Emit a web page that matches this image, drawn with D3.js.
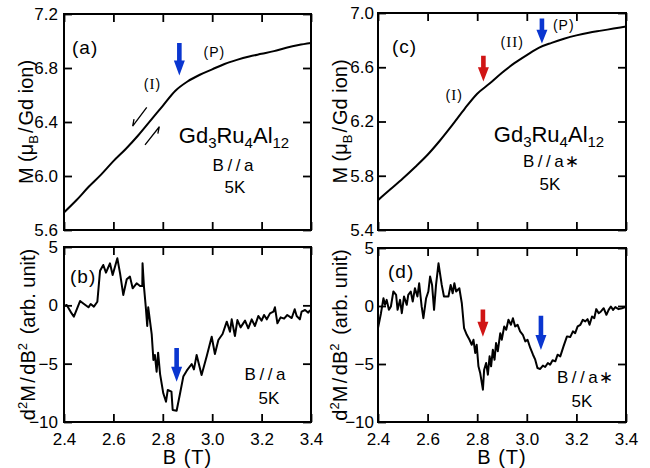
<!DOCTYPE html>
<html>
<head>
<meta charset="utf-8">
<script src="https://cdn.jsdelivr.net/npm/d3@7"></script>
<style>
  body { margin: 0; background: #fff; }
  svg text { font-family: "Liberation Sans", Arial, sans-serif; fill: #000; }
</style>
</head>
<body>
<svg id="fig" width="650" height="468"></svg>
<script>
// ---- magnetization M(B), B // a  (panel a)
const fieldA = [2.40, 2.45, 2.50, 2.55, 2.60, 2.65, 2.70, 2.75, 2.80, 2.85, 2.90,
                2.95, 3.00, 3.05, 3.10, 3.15, 3.20, 3.25, 3.30, 3.35, 3.40];
const magA   = [5.73, 5.82, 5.92, 6.01, 6.11, 6.20, 6.30, 6.41, 6.52, 6.63, 6.70,
                6.75, 6.79, 6.83, 6.86, 6.885, 6.905, 6.925, 6.95, 6.97, 6.985];

// ---- magnetization M(B), B // a*  (panel c)
const fieldC = [2.40, 2.45, 2.50, 2.55, 2.60, 2.65, 2.70, 2.75, 2.80, 2.85, 2.90,
                2.95, 3.00, 3.05, 3.10, 3.15, 3.20, 3.25, 3.30, 3.35, 3.40];
const magC   = [5.62, 5.70, 5.78, 5.865, 5.955, 6.06, 6.175, 6.295, 6.405, 6.48, 6.56,
                6.63, 6.69, 6.745, 6.78, 6.81, 6.835, 6.855, 6.87, 6.885, 6.90];

// ---- second derivative d2M/dB2, B // a  (panel b)
const fieldB = [2.400,2.411,2.431,2.440,2.465,2.481,2.499,2.508,2.521,2.535,2.546,2.559,2.570,2.586,
                2.597,2.616,2.627,2.640,2.654,2.667,2.678,2.694,2.708,2.717,2.718,2.724,2.731,2.737,
                2.741,2.755,2.762,2.768,2.775,2.781,2.789,2.802,2.813,2.820,2.835,2.840,2.856,2.870,
                2.883,2.897,2.917,2.926,2.937,2.957,2.978,2.998,3.011,3.025,3.042,3.059,3.072,3.079,
                3.092,3.102,3.115,3.133,3.146,3.160,3.173,3.187,3.200,3.210,3.221,3.234,3.248,3.254,
                3.264,3.277,3.291,3.304,3.322,3.334,3.342,3.355,3.362,3.376,3.389,3.396];
const d2B    = [-0.06,0.03,-0.69,-0.97,0.37,0.11,-0.17,0.11,-0.11,0.31,2.97,3.46,2.80,3.60,
                2.60,4.03,2.74,0.89,2.23,2.46,1.46,1.89,1.66,1.66,3.60,1.54,-0.11,-1.77,
                -0.17,-2.46,-4.69,-4.26,-5.69,-4.06,-5.89,-7.54,-8.26,-7.26,-7.40,-8.97,-9.03,-7.54,
                -6.11,-5.60,-5.03,-5.49,-4.26,-5.97,-4.34,-2.69,-4.17,-2.97,-2.46,-1.40,-2.26,-1.20,
                -2.63,-1.26,-1.89,-1.31,-1.97,-1.20,-1.77,-0.91,-1.31,-0.83,-1.20,-0.69,-0.54,-0.17,
                -1.54,-1.03,-1.14,-0.83,-1.09,-0.34,-0.91,-1.20,-0.54,-0.40,-0.63,-0.40];

// ---- second derivative d2M/dB2, B // a*  (panel d)
const fieldD = [2.400,2.412,2.422,2.428,2.435,2.444,2.452,2.462,2.473,2.479,2.489,2.496,2.505,2.516,
                2.522,2.532,2.540,2.549,2.559,2.566,2.576,2.583,2.594,2.603,2.610,2.618,2.626,2.634,
                2.644,2.650,2.657,2.666,2.684,2.693,2.701,2.708,2.715,2.728,2.738,2.747,2.758,2.769,
                2.778,2.785,2.792,2.798,2.805,2.812,2.823,2.828,2.836,2.843,2.850,2.856,2.863,2.870,
                2.876,2.883,2.893,2.899,2.909,2.917,2.926,2.936,2.944,2.953,2.963,2.973,2.984,2.994,
                3.003,3.014,3.025,3.034,3.043,3.054,3.065,3.074,3.085,3.094,3.104,3.115,3.124,3.135,
                3.148,3.162,3.175,3.186,3.195,3.205,3.216,3.226,3.236,3.245,3.253,3.263,3.272,3.280,
                3.290,3.299,3.310,3.321,3.330,3.339,3.348,3.357,3.370,3.384,3.397];
const d2D    = [-1.91,-0.62,0.67,0.10,0.53,-0.33,-0.04,1.25,0.96,-0.33,0.53,-0.62,0.82,0.10,
                0.96,1.25,0.39,1.53,0.82,1.96,-0.04,-1.05,0.67,1.25,2.54,1.82,-0.33,1.82,
                3.68,2.82,1.82,0.82,0.82,1.82,1.10,1.96,1.25,1.53,0.24,-1.91,-2.48,-2.91,
                -3.34,-2.91,-4.05,-3.34,-5.20,-5.77,-7.21,-5.49,-4.91,-5.92,-4.34,-5.20,-3.77,-4.63,
                -3.19,-3.91,-2.34,-2.91,-1.76,-2.05,-1.19,-1.62,-1.05,-1.76,-1.62,-2.19,-2.48,-3.05,
                -2.91,-3.62,-4.20,-4.63,-5.34,-5.43,-5.14,-5.26,-4.91,-5.06,-4.68,-4.77,-4.20,-4.34,
                -3.48,-2.62,-2.68,-2.19,-2.34,-1.76,-1.62,-1.19,-1.33,-1.13,-1.62,-0.90,-1.05,-0.27,
                -0.62,-0.47,-0.19,-0.76,-0.33,-0.04,-0.33,-0.10,-0.27,-0.19,-0.10];

// ---- tick values
const fieldTicks = [2.4, 2.6, 2.8, 3.0, 3.2, 3.4];
const magTicksA  = [5.6, 6.0, 6.4, 6.8, 7.2];
const magTicksC  = [5.4, 5.8, 6.2, 6.6, 7.0];
const d2Ticks    = [-10, -5, 0, 5];

// ---- transition markers: field, arrow tail value, arrow tip value, colour
const markersA = [{ b: 2.867, from: 6.985, to: 6.745, c: "#0a36d0" }];
const markersB = [{ b: 2.856, from: -3.65, to: -6.55, c: "#0a36d0" }];
const markersC = [{ b: 2.825, from: 6.685, to: 6.495, c: "#d01515" },
                  { b: 3.061, from: 6.960, to: 6.775, c: "#0a36d0" }];
const markersD = [{ b: 2.823, from: -0.30, to: -2.65, c: "#d01515" },
                  { b: 3.057, from: -0.85, to: -3.80, c: "#0a36d0" }];

const FONT = '"Liberation Sans", Arial, sans-serif';
const svg = d3.select("#fig");

function panel(p) {
  const x = d3.scaleLinear().domain([2.4, 3.4]).range([p.x0, p.x1]);
  const y = d3.scaleLinear().domain(p.dom).range([p.y1, p.y0]);
  const g = svg.append("g");

  const styleAxis = sel => {
    sel.attr("font-size", 17).attr("font-family", FONT);
    sel.select(".domain").remove();
    sel.selectAll(".tick line").attr("stroke", "#000").attr("stroke-width", 1.8);
    sel.selectAll(".tick text").attr("fill", "#000");
  };

  g.append("g").attr("transform", `translate(${p.x0},0)`)
    .call(d3.axisLeft(y).tickValues(p.ticks).tickFormat(p.fmt)
      .tickSizeInner(-8).tickSizeOuter(0).tickPadding(p.pad)).call(styleAxis);
  g.append("g").attr("transform", `translate(${p.x1},0)`)
    .call(d3.axisRight(y).tickValues(p.ticks).tickFormat("")
      .tickSizeInner(-8).tickSizeOuter(0)).call(styleAxis);
  g.append("g").attr("transform", `translate(0,${p.y0})`)
    .call(d3.axisTop(x).tickValues(fieldTicks).tickFormat("")
      .tickSizeInner(-8).tickSizeOuter(0)).call(styleAxis);
  g.append("g").attr("transform", `translate(0,${p.y1})`)
    .call(d3.axisBottom(x).tickValues(fieldTicks)
      .tickFormat(p.xLabels ? d3.format(".1f") : "")
      .tickSizeInner(-8).tickSizeOuter(0).tickPadding(11)).call(styleAxis);

  const clipId = "clip-" + p.id;
  svg.append("clipPath").attr("id", clipId).append("rect")
    .attr("x", p.x0).attr("y", p.y0).attr("width", p.x1 - p.x0).attr("height", p.y1 - p.y0);

  const pts = d3.zip(p.bx, p.vals);
  const line = d3.line().x(d => x(d[0])).y(d => y(d[1]))
    .curve(p.smooth ? d3.curveMonotoneX : d3.curveLinear);
  g.append("path").datum(pts).attr("clip-path", `url(#${clipId})`)
    .attr("d", line).attr("fill", "none").attr("stroke", "#000")
    .attr("stroke-width", 2).attr("stroke-linejoin", "round");

  g.append("rect").attr("x", p.x0).attr("y", p.y0)
    .attr("width", p.x1 - p.x0).attr("height", p.y1 - p.y0)
    .attr("fill", "none").attr("stroke", "#000").attr("stroke-width", 2);

  // block arrows marking transitions
  p.markers.forEach(m => {
    const cx = x(m.b), top = y(m.from), tip = y(m.to);
    const head = Math.min(15, (tip - top) * 0.55), sw = 2.3, hw = 5.5;
    const path = d3.path();
    path.moveTo(cx - sw, top); path.lineTo(cx + sw, top);
    path.lineTo(cx + sw, tip - head); path.lineTo(cx + hw, tip - head);
    path.lineTo(cx, tip); path.lineTo(cx - hw, tip - head);
    path.lineTo(cx - sw, tip - head); path.closePath();
    g.append("path").attr("d", path.toString()).attr("fill", m.c);
  });

  // panel tag
  g.append("text").attr("x", p.x0 + p.tag[1]).attr("y", p.y0 + p.tag[2])
    .attr("font-size", 19).attr("letter-spacing", 1).text(p.tag[0]);

  return { x, y, g };
}

function slashText(g, cx, by, str, size) {
  // text like B//a with wide slashes
  const t = g.append("text").attr("x", cx).attr("y", by)
    .attr("font-size", size).attr("text-anchor", "middle");
  [...str].forEach((ch, i) => {
    const ts = t.append("tspan").attr("dx", i === 0 ? 0 : 3.5).text(ch);
    if (ch === "∗") ts.attr("font-family", '"DejaVu Sans", sans-serif').attr("dx", 1);
  });
  return t;
}

function compound(g, cx, by) {
  const t = g.append("text").attr("x", cx).attr("y", by)
    .attr("font-size", 22).attr("text-anchor", "middle");
  const parts = [["Gd", 0], ["3", 1], ["Ru", 0], ["4", 1], ["Al", 0], ["12", 1]];
  let prev = 0;
  parts.forEach(([s, sub]) => {
    const ts = t.append("tspan").text(s);
    if (sub) ts.attr("font-size", 15);
    const dy = (sub ? 5 : 0) - prev;
    if (dy) ts.attr("dy", dy);
    prev = sub ? 5 : 0;
  });
}

const pa = panel({ id: "a", x0: 64, x1: 311, y0: 14, y1: 230, dom: [5.6, 7.2], ticks: magTicksA,
  fmt: d3.format(".1f"), pad: 6, xLabels: false, bx: fieldA, vals: magA, smooth: true,
  markers: markersA, tag: ["(a)", 8, 40] });
const pb = panel({ id: "b", x0: 64, x1: 311, y0: 247, y1: 422, dom: [-10, 5], ticks: d2Ticks,
  fmt: d3.format("d"), pad: 6, xLabels: true, bx: fieldB, vals: d2B, smooth: false,
  markers: markersB, tag: ["(b)", 6, 36] });
const pc = panel({ id: "c", x0: 378, x1: 626, y0: 13, y1: 230, dom: [5.4, 7.0], ticks: magTicksC,
  fmt: d3.format(".1f"), pad: 4, xLabels: false, bx: fieldC, vals: magC, smooth: true,
  markers: markersC, tag: ["(c)", 14, 40] });
const pd = panel({ id: "d", x0: 378, x1: 626, y0: 248, y1: 422, dom: [-10, 5], ticks: d2Ticks,
  fmt: d3.format("d"), pad: 4, xLabels: true, bx: fieldD, vals: d2D, smooth: false,
  markers: markersD, tag: ["(d)", 10, 30] });

// phase labels on the magnetization curves
const phaseA = [{ t: "(I)", b: 2.758, v: 6.644 }, { t: "(P)", b: 3.009, v: 6.878 }];
const phaseC = [{ t: "(I)", b: 2.707, v: 6.355 }, { t: "(II)", b: 2.941, v: 6.746 },
                { t: "(P)", b: 3.149, v: 6.878 }];
function phases(P, list) {
  list.forEach(d => {
    const t = P.g.append("text").attr("x", P.x(d.b)).attr("y", P.y(d.v))
      .attr("font-size", 14).attr("text-anchor", "middle").attr("letter-spacing", 1);
    t.append("tspan").text("(");
    const inner = d.t.slice(1, -1);
    const mid = t.append("tspan").text(inner);
    if (inner !== "P") mid.attr("font-family", '"Liberation Serif", serif').attr("font-size", 15);
    t.append("tspan").text(")");
  });
}
phases(pa, phaseA);
phases(pc, phaseC);

// field sweep direction harpoons in panel a
const sweeps = [{ b0: 2.735, m0: 6.509, b1: 2.678, m1: 6.370, side: 1 },
                { b0: 2.728, m0: 6.230, b1: 2.786, m1: 6.365, side: 1 }];
sweeps.forEach(s => {
  const x0 = pa.x(s.b0), y0 = pa.y(s.m0), x1 = pa.x(s.b1), y1 = pa.y(s.m1);
  const ang = Math.atan2(y1 - y0, x1 - x0);
  const a2 = ang + Math.PI - s.side * 0.45;
  const bx = x1 + 7 * Math.cos(a2), by = y1 + 7 * Math.sin(a2);
  pa.g.append("path").attr("d", `M${x0},${y0}L${x1},${y1}L${bx},${by}`)
    .attr("fill", "none").attr("stroke", "#000").attr("stroke-width", 1.3);
});

// sample labels
compound(pa.g, 234, 143);
slashText(pa.g, 233, 171, "B//a", 17);
pa.g.append("text").attr("x", 235).attr("y", 193).attr("font-size", 17).attr("text-anchor", "middle").text("5K");

compound(pc.g, 549, 141.5);
slashText(pc.g, 551, 166.5, "B//a∗", 17);
pc.g.append("text").attr("x", 550).attr("y", 189.5).attr("font-size", 17).attr("text-anchor", "middle").text("5K");

slashText(pb.g, 265, 380, "B//a", 17);
pb.g.append("text").attr("x", 269).attr("y", 404).attr("font-size", 17).attr("text-anchor", "middle").text("5K");

slashText(pd.g, 585, 383, "B//a∗", 17);
pd.g.append("text").attr("x", 582).attr("y", 406.5).attr("font-size", 17).attr("text-anchor", "middle").text("5K");

// axis titles
function xTitle(cx) {
  svg.append("text").attr("x", cx).attr("y", 464).attr("font-size", 20)
    .attr("letter-spacing", 1).attr("text-anchor", "middle").text("B (T)");
}
xTitle(187.5);
xTitle(502);

function yTitleM(bx, cy) {
  const t = svg.append("text").attr("transform", `translate(${bx},${cy}) rotate(-90)`)
    .attr("font-size", 20).attr("text-anchor", "middle");
  t.append("tspan").text("M (μ");
  t.append("tspan").attr("font-size", 13).attr("dy", 5).text("B");
  t.append("tspan").attr("dy", -5).attr("dx", 2).text("/");
  t.append("tspan").attr("dx", 2).text("Gd ion)");
}
function yTitleD(bx, cy) {
  const t = svg.append("text").attr("transform", `translate(${bx},${cy}) rotate(-90)`)
    .attr("font-size", 20).attr("text-anchor", "middle");
  t.append("tspan").text("d");
  t.append("tspan").attr("font-size", 13).attr("dy", -8).text("2");
  t.append("tspan").attr("dy", 8).text("M");
  t.append("tspan").attr("dx", 2.5).text("/");
  t.append("tspan").attr("dx", 2.5).text("dB");
  t.append("tspan").attr("font-size", 13).attr("dy", -8).text("2");
  t.append("tspan").attr("dy", 8).attr("dx", 3).text(" (arb. unit)");
}
yTitleM(33, 122);
yTitleM(347, 121.5);
yTitleD(35, 334.5);
yTitleD(347, 335);
</script>
</body>
</html>
